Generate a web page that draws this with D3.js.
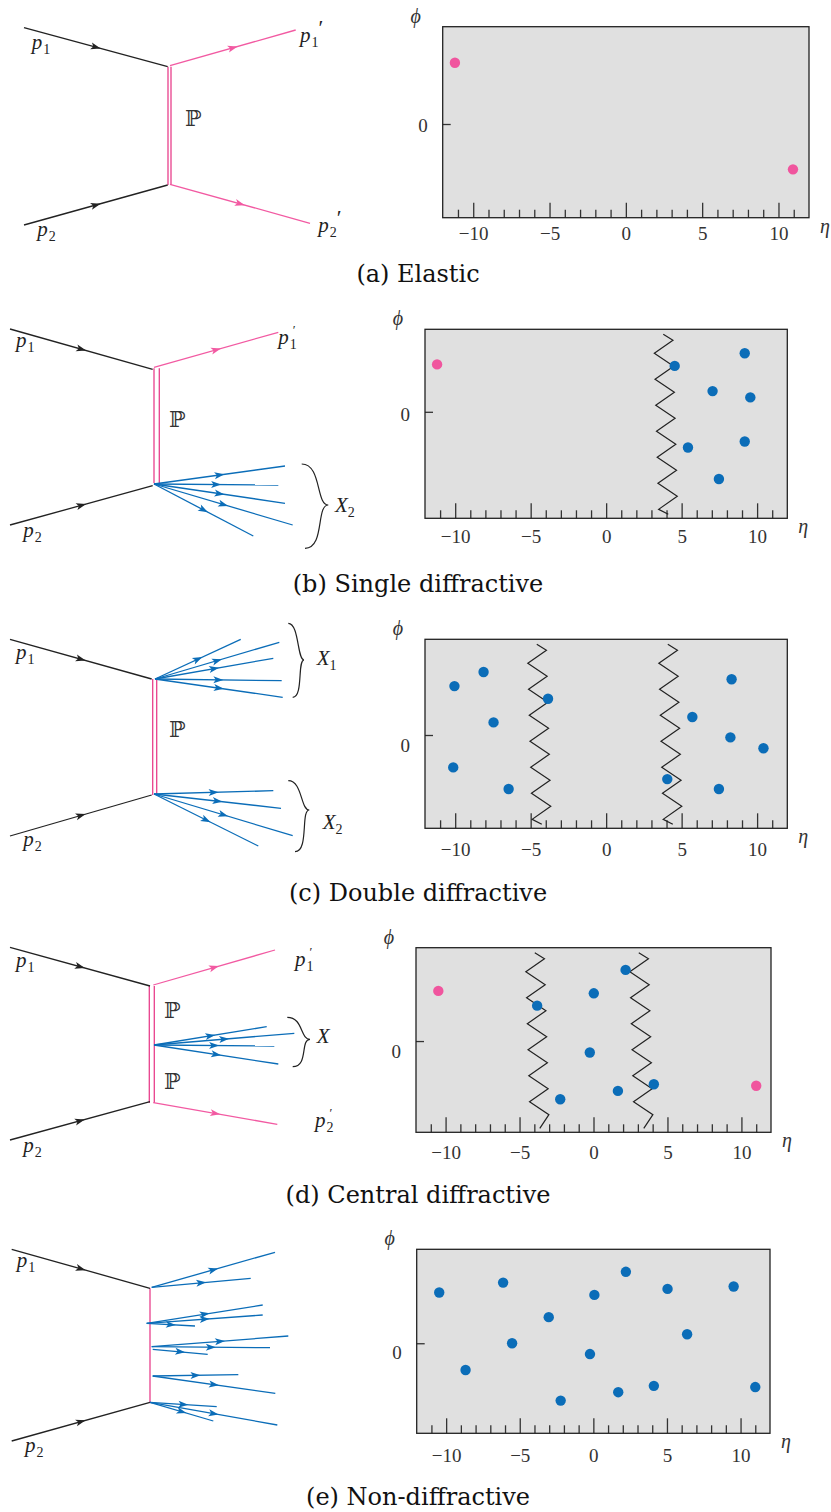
<!DOCTYPE html>
<html>
<head>
<meta charset="utf-8">
<script src="https://cdn.jsdelivr.net/npm/d3@7"></script>
<style>
  body { margin: 0; background: #fff; }
  svg { display: block; }
</style>
</head>
<body>
<script>
// ---------- event displays in the (eta, phi) plane ----------
const etaDomain = [-12, 12];
const etaTicks = [-10, -5, 0, 5, 10];
const etaMinorTicks = [-11, -9, -8, -7, -6, -4, -3, -2, -1, 1, 2, 3, 4, 6, 7, 8, 9, 11];
const phiTicks = [0];

const elasticProtonEta = [-11.2, 10.95];
const elasticProtonPhi = [2.04, -1.51];

const singleProtonEta = [-11.2];
const singleProtonPhi = [1.58];
const singleHadronEta = [4.54, 9.18, 7.05, 9.55, 5.42, 9.18, 7.47];
const singleHadronPhi = [1.53, 1.95, 0.69, 0.48, -1.19, -0.99, -2.24];
const singleGaps = [3.95];

const doubleHadronEta = [-10.05, -8.12, -7.46, -10.13, -6.46, -3.85, 4.05, 5.71, 8.31, 8.23, 10.42, 7.47];
const doubleHadronPhi = [1.63, 2.10, 0.42, -1.08, -1.80, 1.21, -1.47, 0.60, 1.86, -0.08, -0.44, -1.80];
const doubleGaps = [-4.43, 4.25];

const centralProtonEta = [-10.49, 11.0];
const centralProtonPhi = [1.67, -1.49];
const centralHadronEta = [2.17, 0.02, -3.81, -0.25, 4.08, 1.65, -2.25];
const centralHadronPhi = [2.37, 1.59, 1.18, -0.38, -1.44, -1.66, -1.94];
const centralGaps = [-3.8, 3.23];

const nondiffHadronEta = [-10.47, -8.68, -6.13, -5.52, -3.03, -2.22, 0.07, -0.23, 2.21, 1.69, 4.11, 5.04, 6.37, 9.53, 11.0];
const nondiffHadronPhi = [1.69, -0.89, 2.02, 0.0, 0.87, -1.91, 1.61, -0.36, 2.38, -1.63, -1.42, 1.81, 0.30, 1.89, -1.46];

const captions = ["(a) Elastic", "(b) Single diffractive", "(c) Double diffractive",
                  "(d) Central diffractive", "(e) Non-diffractive"];

// ---------- styling ----------
const COL = {
  ink: "#222", axis: "#333", panel: "#e0e0e0",
  proton: "#f0559e", protonLine: "#f25aa2", exchange: "#e8408c", hadron: "#0b6db8"
};
const SERIF = "Liberation Serif";
const CAPTION_FONT = "DejaVu Serif";

const svg = d3.select("body").append("svg").attr("width", 831).attr("height", 1512);

// ---------- layout of the five rows ----------
const displays = [
  { box: [442.7, 809, 26.7, 217.7], phiDomain: [-3.12, 3.24], labelPad: 9, zeroDy: 1,
    protonEta: elasticProtonEta, protonPhi: elasticProtonPhi, hadronEta: [], hadronPhi: [], gaps: [] },
  { box: [425, 787.3, 329.3, 518.3], phiDomain: [-3.55, 2.75], labelPad: 11, zeroDy: 3,
    protonEta: singleProtonEta, protonPhi: singleProtonPhi, hadronEta: singleHadronEta, hadronPhi: singleHadronPhi, gaps: singleGaps },
  { box: [425, 787.3, 639.3, 828.3], phiDomain: [-3.11, 3.19], labelPad: 14, zeroDy: 10,
    protonEta: [], protonPhi: [], hadronEta: doubleHadronEta, hadronPhi: doubleHadronPhi, gaps: doubleGaps },
  { box: [416, 771, 947.7, 1132.3], phiDomain: [-3.04, 3.11], labelPad: 13, zeroDy: 10,
    protonEta: centralProtonEta, protonPhi: centralProtonPhi, hadronEta: centralHadronEta, hadronPhi: centralHadronPhi, gaps: centralGaps },
  { box: [416.7, 770, 1249.3, 1433.3], phiDomain: [-3.0, 3.13], labelPad: 15, zeroDy: 9,
    protonEta: [], protonPhi: [], hadronEta: nondiffHadronEta, hadronPhi: nondiffHadronPhi, gaps: [] }
];
const captionBaselines = [282, 592, 901, 1203, 1505];

function zigzagPath(xc, yTop, yBot) {
  const half = 9.5, step = 13, tilt = 5;
  const cx = yy => xc - tilt / 2 + tilt * (yy - yTop) / (yBot - yTop);
  const pts = [[cx(yTop), yTop]];
  let side = 1;
  for (let yy = yTop + 6; yy < yBot - 4; yy += step) {
    pts.push([cx(yy) + side * half, yy]);
    side = -side;
  }
  pts.push([cx(yBot), yBot]);
  return d3.line()(pts);
}

function drawDisplay(d) {
  const [x0, x1, y0, y1] = d.box;
  const x = d3.scaleLinear().domain(etaDomain).range([x0, x1]);
  const y = d3.scaleLinear().domain(d.phiDomain).range([y1, y0]);
  const g = svg.append("g");

  g.append("rect").attr("x", x0).attr("y", y0).attr("width", x1 - x0).attr("height", y1 - y0)
    .attr("fill", COL.panel);

  const minor = g.append("g").attr("transform", `translate(0,${y1})`)
    .call(d3.axisBottom(x).tickValues(etaMinorTicks).tickSizeInner(-8).tickSizeOuter(0).tickFormat(""));
  const major = g.append("g").attr("transform", `translate(0,${y1})`)
    .call(d3.axisBottom(x).tickValues(etaTicks).tickSizeInner(-15).tickSizeOuter(0)
      .tickPadding(d.labelPad).tickFormat(d3.format("d")));
  const left = g.append("g").attr("transform", `translate(${x0},0)`)
    .call(d3.axisLeft(y).tickValues(phiTicks).tickSizeInner(-8).tickSizeOuter(0)
      .tickPadding(15).tickFormat(d3.format("d")));
  [minor, major, left].forEach(a => {
    a.select(".domain").remove();
    a.selectAll("line").attr("stroke", COL.axis).attr("stroke-width", 1.3);
    a.selectAll("text").style("font-family", SERIF).style("font-size", "19px").attr("fill", "#333");
  });
  left.selectAll("text").attr("transform", `translate(0,${d.zeroDy})`);

  // rapidity-gap boundaries
  g.selectAll("path.gap").data(d.gaps).join("path").attr("class", "gap")
    .attr("d", e => zigzagPath(x(e), y0 + 5, y1 - 4))
    .attr("fill", "none").attr("stroke", COL.ink).attr("stroke-width", 1.2);

  const hadrons = d.hadronEta.map((e, i) => [e, d.hadronPhi[i]]);
  const protons = d.protonEta.map((e, i) => [e, d.protonPhi[i]]);
  g.selectAll("circle.h").data(hadrons).join("circle").attr("class", "h")
    .attr("cx", p => x(p[0])).attr("cy", p => y(p[1])).attr("r", 5.2).attr("fill", COL.hadron);
  g.selectAll("circle.p").data(protons).join("circle").attr("class", "p")
    .attr("cx", p => x(p[0])).attr("cy", p => y(p[1])).attr("r", 5.2).attr("fill", COL.proton);

  g.append("rect").attr("x", x0).attr("y", y0).attr("width", x1 - x0).attr("height", y1 - y0)
    .attr("fill", "none").attr("stroke", COL.ink).attr("stroke-width", 1.3);

  g.append("text").attr("x", x0 - 27).attr("y", y0 - 11).attr("text-anchor", "middle")
    .attr("dominant-baseline", "central").style("font-family", SERIF).style("font-style", "italic")
    .style("font-size", "20px").attr("fill", "#333").text("ϕ");
  g.append("text").attr("x", x1 + 16).attr("y", y1 + 8).attr("text-anchor", "middle")
    .attr("dominant-baseline", "central").style("font-family", SERIF).style("font-style", "italic")
    .style("font-size", "20px").attr("fill", "#333").text("η");
}

displays.forEach(drawDisplay);

// ---------- Feynman-type diagrams (local coordinates, offset per row) ----------
const diagrams = [
  { top: 0,
    beams: [[[24, 27.7], [167.7, 66.7]], [[24, 225], [167.7, 185]]],
    exchange: { xs: [168, 171], y: [66.7, 185] },
    protons: [[[170, 65.7], [295.7, 30]], [[170, 184.3], [310, 223.3]]],
    hadrons: [],
    braces: [],
    pomerons: [[185, 126]],
    labels: [
      { x: 31.7, y: 49, base: "p", sub: "1" }, { x: 37.3, y: 236, base: "p", sub: "2" },
      { x: 300, y: 42, base: "p", sub: "1", prime: "after" }, { x: 318.3, y: 232.3, base: "p", sub: "2", prime: "after" }
    ] },
  { top: 310,
    beams: [[[10, 19], [152.7, 59.3]], [[10, 215], [152.7, 175.7]]],
    exchange: { xs: [154, 159.3], y: [58.3, 173.3] },
    protons: [[[154, 57.3], [278.3, 22.3]]],
    hadrons: [[[154, 174], [285, 156]], [[154, 174], [278.3, 175]], [[154, 174], [285, 193.3]],
              [[154, 174], [292.7, 215]], [[154, 174], [253.3, 226]]],
    braces: [{ top: [301.7, 154], bottom: [305, 238.3], tip: [328.3, 195],
               label: { x: 335, y: 201.7, base: "X", sub: "2" } }],
    pomerons: [[169, 116.7]],
    labels: [
      { x: 16, y: 37.3, base: "p", sub: "1" }, { x: 23.3, y: 227.3, base: "p", sub: "2" },
      { x: 278.3, y: 34, base: "p", sub: "1", prime: "stacked" }
    ] },
  { top: 610,
    beams: [[[10, 29.3], [151.7, 69]], [[10, 226], [151.7, 185]]],
    exchange: { xs: [152.7, 156.7], y: [69, 185] },
    protons: [],
    hadrons: [[[155, 69], [240.7, 29.3]], [[155, 69], [279.3, 32.3]], [[155, 69], [273.3, 48.3]],
              [[155, 69], [281.7, 70.7]], [[155, 69], [282.7, 87.3]],
              [[154, 184], [273.3, 180.7]], [[154, 184], [281, 198.3]],
              [[154, 184], [292.7, 225.7]], [[154, 184], [258.3, 236]]],
    braces: [{ top: [288.3, 13.3], bottom: [292.7, 87.3], tip: [304, 50],
               label: { x: 316.7, y: 55, base: "X", sub: "1" } },
             { top: [288.3, 170.7], bottom: [295, 241.7], tip: [309.3, 200],
               label: { x: 322.7, y: 219, base: "X", sub: "2" } }],
    pomerons: [[169, 126.7]],
    labels: [
      { x: 16, y: 49, base: "p", sub: "1" }, { x: 23.3, y: 235.7, base: "p", sub: "2" }
    ] },
  { top: 930,
    beams: [[[10, 17.3], [150, 56]], [[10, 210], [150, 171.7]]],
    exchange: { xs: [149.3, 154.3], y: [56, 173] },
    protons: [[[153.3, 55], [275, 20]], [[153.3, 172.7], [277.3, 194.3]]],
    hadrons: [[[154, 115], [266.7, 96.7]], [[154, 115], [294.3, 103.3]],
              [[154, 115], [274.3, 116]], [[154, 115], [278.3, 134]]],
    braces: [{ top: [287.3, 87.3], bottom: [292.7, 136.7], tip: [310, 109.3],
               label: { x: 316.7, y: 113.3, base: "X" } }],
    pomerons: [[164, 87.5], [164, 159]],
    labels: [
      { x: 16, y: 37.3, base: "p", sub: "1" }, { x: 23.3, y: 222.3, base: "p", sub: "2" },
      { x: 295, y: 35.7, base: "p", sub: "1", prime: "stacked" },
      { x: 315, y: 197, base: "p", sub: "2", prime: "stacked" }
    ] },
  { top: 1230,
    beams: [[[11.7, 19.3], [150, 58.3]], [[11.7, 211], [150, 172.3]]],
    exchange: { xs: [150], y: [58.3, 172.3] },
    protons: [],
    hadrons: [[[151.7, 57.3], [275, 22.3]], [[151.7, 57.3], [250.7, 48.3]],
              [[146.7, 93.3], [262.7, 75]], [[146.7, 93.3], [262.7, 85]], [[146.7, 93.3], [195, 96]],
              [[151.7, 116.7], [288.3, 106]], [[151.7, 116.7], [270, 117.7]], [[152.7, 119.3], [207.7, 124.3]],
              [[152.7, 146], [238.3, 144.7]], [[152.7, 146], [275.3, 163.3]],
              [[150, 172.3], [216.7, 176.7]], [[150, 172.3], [213.3, 191]], [[150, 172.3], [277.3, 195]]],
    braces: [],
    pomerons: [],
    labels: [
      { x: 16.7, y: 37.3, base: "p", sub: "1" }, { x: 25, y: 222.3, base: "p", sub: "2" }
    ] }
];

const line = d3.line();

function arrowLine(g, seg, color) {
  const [p, q] = seg;
  g.append("path").attr("d", line(seg)).attr("fill", "none")
    .attr("stroke", color).attr("stroke-width", 1.3);
  const mx = (p[0] + q[0]) / 2, my = (p[1] + q[1]) / 2;
  const ang = Math.atan2(q[1] - p[1], q[0] - p[0]) * 180 / Math.PI;
  g.append("path").attr("d", "M5,0 L-5,-3.5 L-2.6,0 L-5,3.5 Z").attr("fill", color)
    .attr("transform", `translate(${mx},${my}) rotate(${ang})`);
}

function bracePath(b) {
  const [xt, yt] = b.top, [xb, yb] = b.bottom, [xp, yp] = b.tip;
  const w = xp - (xt + xb) / 2;
  return `M${xt},${yt} C${xt + 0.8 * w},${yt} ${xp - 0.5 * w},${yp} ${xp},${yp}` +
         ` C${xp - 0.5 * w},${yp} ${xb + 0.8 * w},${yb} ${xb},${yb}`;
}

function mathLabel(g, l) {
  const t = g.append("text").attr("x", l.x).attr("y", l.y)
    .style("font-family", SERIF).style("font-size", "21px").attr("fill", "#222");
  t.append("tspan").style("font-style", "italic").text(l.base);
  if (l.sub) t.append("tspan").style("font-size", "14px").attr("dy", 5).attr("dx", l.base === "X" ? 0 : 1).text(l.sub);
  if (l.prime === "after") t.append("tspan").style("font-size", "22px").attr("dy", -12).attr("dx", 0).text("′");
  if (l.prime === "stacked") t.append("tspan").style("font-size", "13px").attr("dy", -15).attr("dx", -4).text("′");
}

function drawDiagram(dg) {
  const g = svg.append("g").attr("transform", `translate(0,${dg.top})`);
  dg.exchange.xs.forEach(xv => {
    g.append("path").attr("d", line([[xv, dg.exchange.y[0]], [xv, dg.exchange.y[1]]]))
      .attr("stroke", COL.exchange).attr("stroke-width", 1.3).attr("fill", "none");
  });
  dg.beams.forEach(s => arrowLine(g, s, COL.ink));
  dg.protons.forEach(s => arrowLine(g, s, COL.protonLine));
  dg.hadrons.forEach(s => arrowLine(g, s, COL.hadron));
  dg.braces.forEach(b => {
    g.append("path").attr("d", bracePath(b)).attr("fill", "none")
      .attr("stroke", COL.ink).attr("stroke-width", 1.2);
    mathLabel(g, b.label);
  });
  dg.pomerons.forEach(p => {
    g.append("text").attr("x", p[0]).attr("y", p[1]).style("font-family", "DejaVu Serif")
      .style("font-size", "22px").attr("fill", "#333").text("ℙ");
  });
  dg.labels.forEach(l => mathLabel(g, l));
}

diagrams.forEach(drawDiagram);

// ---------- sub-figure captions ----------
svg.selectAll("text.caption").data(captions).join("text").attr("class", "caption")
  .attr("x", 418).attr("y", (c, i) => captionBaselines[i])
  .attr("text-anchor", "middle").style("font-family", CAPTION_FONT).style("font-size", "24px")
  .attr("fill", "#111").text(c => c);
</script>
</body>
</html>
